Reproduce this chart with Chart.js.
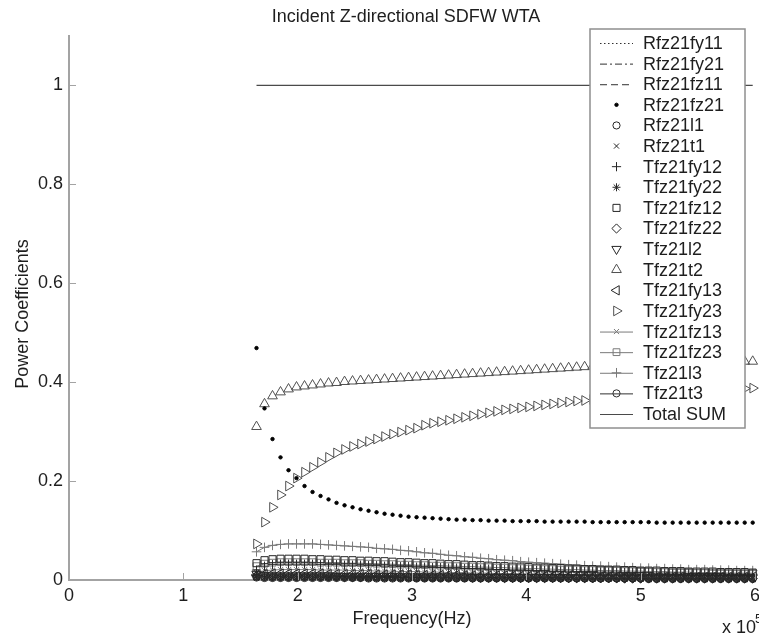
<!DOCTYPE html>
<html>
<head>
<meta charset="utf-8">
<title>Incident Z-directional SDFW WTA</title>
<script src="https://cdn.jsdelivr.net/npm/chart.js@4.4.1/dist/chart.umd.min.js"></script>
<style>
  html, body { margin: 0; padding: 0; background: #fff; overflow: hidden; }
  #wrap { width: 765px; height: 637px; }
</style>
</head>
<body>
<div id="wrap"><canvas id="powerChart" width="765" height="637"></canvas></div>
<script>
// frequency in units of 1e5 Hz
const freqE5 = [
  1.64, 1.71, 1.78, 1.85, 1.92, 1.99, 2.06,
  2.13, 2.20, 2.27, 2.34, 2.41, 2.48, 2.55,
  2.62, 2.69, 2.76, 2.83, 2.90, 2.97, 3.04,
  3.11, 3.18, 3.25, 3.32, 3.39, 3.46, 3.53,
  3.60, 3.67, 3.74, 3.81, 3.88, 3.95, 4.02,
  4.09, 4.16, 4.23, 4.30, 4.37, 4.44, 4.51,
  4.58, 4.65, 4.72, 4.79, 4.86, 4.93, 5.00,
  5.07, 5.14, 5.21, 5.28, 5.35, 5.42, 5.49,
  5.56, 5.63, 5.70, 5.77, 5.84, 5.91, 5.98
];

const xTicks = [0, 1, 2, 3, 4, 5, 6];
const yTicks = [0, 0.2, 0.4, 0.6, 0.8, 1];

const rfz21fy11 = [
  0.004, 0.003, 0.003, 0.003, 0.003, 0.003, 0.003,
  0.003, 0.003, 0.003, 0.003, 0.003, 0.003, 0.003,
  0.003, 0.003, 0.003, 0.002, 0.002, 0.002, 0.002,
  0.002, 0.002, 0.002, 0.002, 0.002, 0.002, 0.002,
  0.002, 0.002, 0.002, 0.002, 0.002, 0.002, 0.002,
  0.002, 0.002, 0.002, 0.002, 0.002, 0.002, 0.002,
  0.002, 0.002, 0.002, 0.002, 0.002, 0.002, 0.002,
  0.002, 0.002, 0.002, 0.002, 0.002, 0.002, 0.002,
  0.002, 0.002, 0.002, 0.002, 0.002, 0.002, 0.002
];
const rfz21fy21 = [
  0.008, 0.007, 0.007, 0.007, 0.007, 0.007, 0.007,
  0.007, 0.007, 0.007, 0.006, 0.006, 0.006, 0.006,
  0.006, 0.006, 0.006, 0.006, 0.006, 0.006, 0.006,
  0.006, 0.005, 0.005, 0.005, 0.005, 0.005, 0.005,
  0.005, 0.005, 0.005, 0.005, 0.005, 0.005, 0.005,
  0.005, 0.005, 0.004, 0.004, 0.004, 0.004, 0.004,
  0.004, 0.004, 0.004, 0.004, 0.004, 0.004, 0.004,
  0.004, 0.004, 0.004, 0.004, 0.004, 0.004, 0.004,
  0.004, 0.004, 0.004, 0.004, 0.004, 0.004, 0.004
];
const rfz21fz11 = [
  0.013, 0.012, 0.012, 0.011, 0.011, 0.011, 0.011,
  0.011, 0.010, 0.010, 0.010, 0.010, 0.010, 0.010,
  0.009, 0.009, 0.009, 0.009, 0.009, 0.009, 0.008,
  0.008, 0.008, 0.008, 0.008, 0.008, 0.007, 0.007,
  0.007, 0.007, 0.007, 0.007, 0.007, 0.007, 0.006,
  0.006, 0.006, 0.006, 0.006, 0.006, 0.006, 0.006,
  0.006, 0.006, 0.005, 0.005, 0.005, 0.005, 0.005,
  0.005, 0.005, 0.005, 0.005, 0.005, 0.005, 0.005,
  0.005, 0.005, 0.005, 0.005, 0.005, 0.005, 0.005
];
const rfz21fz21 = [
  0.469, 0.347, 0.285, 0.248, 0.222, 0.206, 0.190,
  0.178, 0.170, 0.163, 0.156, 0.151, 0.147, 0.143,
  0.140, 0.137, 0.134, 0.132, 0.130, 0.128, 0.127,
  0.126, 0.125, 0.124, 0.123, 0.122, 0.122, 0.121,
  0.121, 0.120, 0.120, 0.120, 0.119, 0.119, 0.119,
  0.119, 0.118, 0.118, 0.118, 0.118, 0.118, 0.118,
  0.117, 0.117, 0.117, 0.117, 0.117, 0.117, 0.117,
  0.117, 0.116, 0.116, 0.116, 0.116, 0.116, 0.116,
  0.116, 0.116, 0.116, 0.116, 0.116, 0.116, 0.116
];
const rfz21l1 = [
  0.005, 0.004, 0.004, 0.004, 0.004, 0.004, 0.004,
  0.004, 0.004, 0.004, 0.004, 0.004, 0.004, 0.004,
  0.003, 0.003, 0.003, 0.003, 0.003, 0.003, 0.003,
  0.003, 0.003, 0.003, 0.003, 0.003, 0.003, 0.003,
  0.003, 0.003, 0.003, 0.003, 0.003, 0.003, 0.003,
  0.003, 0.003, 0.003, 0.003, 0.003, 0.003, 0.003,
  0.003, 0.003, 0.003, 0.003, 0.003, 0.003, 0.003,
  0.002, 0.002, 0.002, 0.002, 0.002, 0.002, 0.002,
  0.002, 0.002, 0.002, 0.002, 0.002, 0.002, 0.002
];
const rfz21t1 = [
  0.006, 0.005, 0.005, 0.005, 0.005, 0.005, 0.005,
  0.005, 0.005, 0.005, 0.005, 0.005, 0.005, 0.005,
  0.005, 0.004, 0.004, 0.004, 0.004, 0.004, 0.004,
  0.004, 0.004, 0.004, 0.004, 0.004, 0.004, 0.004,
  0.004, 0.004, 0.004, 0.004, 0.004, 0.003, 0.003,
  0.003, 0.003, 0.003, 0.003, 0.003, 0.003, 0.003,
  0.003, 0.003, 0.003, 0.003, 0.003, 0.003, 0.003,
  0.003, 0.003, 0.003, 0.003, 0.003, 0.003, 0.003,
  0.003, 0.003, 0.003, 0.003, 0.003, 0.003, 0.003
];
const tfz21fy12 = [
  0.020, 0.028, 0.031, 0.032, 0.032, 0.032, 0.032,
  0.032, 0.031, 0.031, 0.031, 0.030, 0.030, 0.030,
  0.029, 0.029, 0.028, 0.028, 0.027, 0.027, 0.026,
  0.026, 0.025, 0.025, 0.024, 0.024, 0.023, 0.023,
  0.022, 0.022, 0.021, 0.021, 0.020, 0.020, 0.020,
  0.019, 0.019, 0.018, 0.018, 0.018, 0.017, 0.017,
  0.017, 0.016, 0.016, 0.016, 0.015, 0.015, 0.015,
  0.015, 0.014, 0.014, 0.014, 0.014, 0.013, 0.013,
  0.013, 0.013, 0.013, 0.012, 0.012, 0.012, 0.012
];
const tfz21fy22 = [
  0.009, 0.008, 0.008, 0.008, 0.008, 0.008, 0.008,
  0.008, 0.008, 0.007, 0.007, 0.007, 0.007, 0.007,
  0.007, 0.007, 0.007, 0.007, 0.006, 0.006, 0.006,
  0.006, 0.006, 0.006, 0.006, 0.006, 0.006, 0.006,
  0.005, 0.005, 0.005, 0.005, 0.005, 0.005, 0.005,
  0.005, 0.005, 0.005, 0.005, 0.005, 0.004, 0.004,
  0.004, 0.004, 0.004, 0.004, 0.004, 0.004, 0.004,
  0.004, 0.004, 0.004, 0.004, 0.004, 0.004, 0.004,
  0.004, 0.004, 0.004, 0.004, 0.004, 0.004, 0.004
];
const tfz21fz12 = [
  0.034, 0.040, 0.042, 0.043, 0.043, 0.043, 0.043,
  0.042, 0.042, 0.041, 0.041, 0.040, 0.040, 0.039,
  0.039, 0.038, 0.038, 0.037, 0.036, 0.036, 0.035,
  0.034, 0.034, 0.033, 0.032, 0.032, 0.031, 0.030,
  0.030, 0.029, 0.028, 0.028, 0.027, 0.027, 0.026,
  0.025, 0.025, 0.024, 0.024, 0.023, 0.023, 0.022,
  0.022, 0.021, 0.021, 0.021, 0.020, 0.020, 0.019,
  0.019, 0.019, 0.018, 0.018, 0.018, 0.017, 0.017,
  0.017, 0.017, 0.016, 0.016, 0.016, 0.016, 0.015
];
const tfz21fz22 = [
  0.008, 0.007, 0.007, 0.007, 0.007, 0.007, 0.007,
  0.007, 0.007, 0.007, 0.007, 0.006, 0.006, 0.006,
  0.006, 0.006, 0.006, 0.006, 0.006, 0.006, 0.005,
  0.005, 0.005, 0.005, 0.005, 0.005, 0.005, 0.005,
  0.005, 0.005, 0.005, 0.004, 0.004, 0.004, 0.004,
  0.004, 0.004, 0.004, 0.004, 0.004, 0.004, 0.004,
  0.004, 0.004, 0.004, 0.004, 0.003, 0.003, 0.003,
  0.003, 0.003, 0.003, 0.003, 0.003, 0.003, 0.003,
  0.003, 0.003, 0.003, 0.003, 0.003, 0.003, 0.003
];
const tfz21l2 = [
  0.012, 0.010, 0.009, 0.009, 0.009, 0.009, 0.009,
  0.009, 0.009, 0.009, 0.008, 0.008, 0.008, 0.008,
  0.008, 0.008, 0.008, 0.008, 0.007, 0.007, 0.007,
  0.007, 0.007, 0.007, 0.007, 0.007, 0.007, 0.006,
  0.006, 0.006, 0.006, 0.006, 0.006, 0.006, 0.006,
  0.006, 0.006, 0.006, 0.006, 0.005, 0.005, 0.005,
  0.005, 0.005, 0.005, 0.005, 0.005, 0.005, 0.005,
  0.005, 0.005, 0.005, 0.005, 0.005, 0.005, 0.005,
  0.005, 0.005, 0.005, 0.005, 0.005, 0.005, 0.005
];
const tfz21t2 = [
  0.310, 0.356, 0.372, 0.380, 0.386, 0.390, 0.392,
  0.394, 0.396, 0.398, 0.399, 0.401, 0.402, 0.403,
  0.404, 0.405, 0.406, 0.407, 0.408, 0.409, 0.410,
  0.411, 0.412, 0.413, 0.414, 0.415, 0.416, 0.417,
  0.418, 0.419, 0.420, 0.421, 0.422, 0.423, 0.424,
  0.425, 0.426, 0.427, 0.428, 0.429, 0.430, 0.431,
  0.432, 0.432, 0.433, 0.434, 0.435, 0.435, 0.436,
  0.437, 0.437, 0.438, 0.438, 0.439, 0.439, 0.440,
  0.440, 0.441, 0.441, 0.441, 0.442, 0.442, 0.442
];
const tfz21fy13 = [
  0.010, 0.012, 0.013, 0.013, 0.013, 0.013, 0.013,
  0.013, 0.013, 0.012, 0.012, 0.012, 0.012, 0.012,
  0.012, 0.011, 0.011, 0.011, 0.011, 0.011, 0.010,
  0.010, 0.010, 0.010, 0.010, 0.010, 0.009, 0.009,
  0.009, 0.009, 0.009, 0.009, 0.008, 0.008, 0.008,
  0.008, 0.008, 0.008, 0.008, 0.008, 0.007, 0.007,
  0.007, 0.007, 0.007, 0.007, 0.007, 0.007, 0.007,
  0.006, 0.006, 0.006, 0.006, 0.006, 0.006, 0.006,
  0.006, 0.006, 0.006, 0.006, 0.006, 0.006, 0.006
];
const tfz21fy23 = [
  0.073, 0.117, 0.147, 0.172, 0.190, 0.206, 0.218,
  0.228, 0.238, 0.248, 0.257, 0.264, 0.270, 0.275,
  0.280, 0.285, 0.290, 0.295, 0.299, 0.303, 0.307,
  0.313, 0.317, 0.320, 0.323, 0.326, 0.329, 0.332,
  0.335, 0.338, 0.341, 0.344, 0.346, 0.348, 0.350,
  0.352, 0.354, 0.356, 0.358, 0.360, 0.362, 0.363,
  0.365, 0.366, 0.368, 0.369, 0.371, 0.372, 0.373,
  0.374, 0.376, 0.377, 0.378, 0.379, 0.380, 0.381,
  0.382, 0.383, 0.384, 0.385, 0.386, 0.387, 0.388
];
const tfz21fz13 = [
  0.015, 0.019, 0.020, 0.021, 0.021, 0.021, 0.021,
  0.021, 0.020, 0.020, 0.020, 0.020, 0.019, 0.019,
  0.019, 0.018, 0.018, 0.018, 0.017, 0.017, 0.017,
  0.016, 0.016, 0.016, 0.015, 0.015, 0.015, 0.014,
  0.014, 0.014, 0.013, 0.013, 0.013, 0.012, 0.012,
  0.012, 0.012, 0.011, 0.011, 0.011, 0.011, 0.010,
  0.010, 0.010, 0.010, 0.010, 0.009, 0.009, 0.009,
  0.009, 0.009, 0.009, 0.008, 0.008, 0.008, 0.008,
  0.008, 0.008, 0.008, 0.008, 0.007, 0.007, 0.007
];
const tfz21fz23 = [
  0.028, 0.033, 0.035, 0.036, 0.036, 0.036, 0.036,
  0.036, 0.035, 0.035, 0.035, 0.034, 0.034, 0.034,
  0.033, 0.033, 0.032, 0.032, 0.031, 0.031, 0.030,
  0.030, 0.029, 0.029, 0.028, 0.028, 0.027, 0.027,
  0.026, 0.026, 0.025, 0.025, 0.024, 0.024, 0.023,
  0.023, 0.022, 0.022, 0.021, 0.021, 0.021, 0.020,
  0.020, 0.019, 0.019, 0.019, 0.018, 0.018, 0.018,
  0.017, 0.017, 0.017, 0.016, 0.016, 0.016, 0.015,
  0.015, 0.015, 0.015, 0.014, 0.014, 0.014, 0.014
];
const tfz21l3 = [
  0.057, 0.066, 0.070, 0.072, 0.073, 0.073, 0.073,
  0.073, 0.072, 0.071, 0.070, 0.069, 0.068, 0.067,
  0.066, 0.064, 0.063, 0.062, 0.060, 0.059, 0.057,
  0.055, 0.054, 0.052, 0.050, 0.049, 0.047, 0.046,
  0.044, 0.043, 0.041, 0.040, 0.039, 0.037, 0.036,
  0.035, 0.034, 0.033, 0.032, 0.031, 0.030, 0.029,
  0.028, 0.028, 0.027, 0.026, 0.026, 0.025, 0.024,
  0.024, 0.023, 0.023, 0.022, 0.022, 0.021, 0.021,
  0.021, 0.020, 0.020, 0.020, 0.019, 0.019, 0.019
];
const tfz21t3 = [
  0.007, 0.006, 0.006, 0.006, 0.006, 0.006, 0.006,
  0.006, 0.006, 0.006, 0.006, 0.006, 0.005, 0.005,
  0.005, 0.005, 0.005, 0.005, 0.005, 0.005, 0.005,
  0.005, 0.005, 0.005, 0.005, 0.004, 0.004, 0.004,
  0.004, 0.004, 0.004, 0.004, 0.004, 0.004, 0.004,
  0.004, 0.004, 0.004, 0.004, 0.004, 0.004, 0.004,
  0.003, 0.003, 0.003, 0.003, 0.003, 0.003, 0.003,
  0.003, 0.003, 0.003, 0.003, 0.003, 0.003, 0.003,
  0.003, 0.003, 0.003, 0.003, 0.003, 0.003, 0.003
];
const totalSum = [
  1, 1, 1, 1, 1, 1, 1,
  1, 1, 1, 1, 1, 1, 1,
  1, 1, 1, 1, 1, 1, 1,
  1, 1, 1, 1, 1, 1, 1,
  1, 1, 1, 1, 1, 1, 1,
  1, 1, 1, 1, 1, 1, 1,
  1, 1, 1, 1, 1, 1, 1,
  1, 1, 1, 1, 1, 1, 1,
  1, 1, 1, 1, 1, 1, 1
];

const FONT = "'Liberation Sans', Arial, Helvetica, sans-serif";
const TEXT = '#1e1e1e';
const AXIS = '#a3a3a3';
const MARK = '#262626';
const LINE = '#7a7a7a';

function toPoints(values) {
  return values.map((v, i) => ({ x: freqE5[i], y: v }));
}

// marker-only series (MATLAB style, hollow markers)
function markers(label, values, style, radius, rotation, color) {
  return {
    label: label,
    data: toPoints(values),
    showLine: false,
    pointStyle: style,
    pointRadius: radius,
    pointRotation: rotation || 0,
    pointBorderColor: color || MARK,
    pointBackgroundColor: 'rgba(0,0,0,0)',
    pointBorderWidth: 1,
    borderColor: color || MARK,
    clip: false
  };
}

// line series, optionally with a marker
function lineSeries(label, values, dash, style, radius, color, width) {
  return {
    label: label,
    data: toPoints(values),
    showLine: true,
    borderColor: color || LINE,
    borderWidth: width || 1,
    borderDash: dash,
    pointStyle: style || 'circle',
    pointRadius: style ? radius : 0,
    pointRotation: 0,
    pointBorderColor: color || LINE,
    pointBackgroundColor: 'rgba(0,0,0,0)',
    pointBorderWidth: 1,
    tension: 0,
    clip: false
  };
}

const dots = markers('Rfz21fz21', rfz21fz21, 'circle', 1.7, 0, '#000');
dots.pointBackgroundColor = '#000';

const datasets = [
  lineSeries('Rfz21fy11', rfz21fy11, [1.5, 2.5], null, 0, '#303030'),
  lineSeries('Rfz21fy21', rfz21fy21, [7, 3, 2, 3], null, 0, '#303030'),
  lineSeries('Rfz21fz11', rfz21fz11, [7, 4], null, 0, '#303030'),
  dots,
  markers('Rfz21l1', rfz21l1, 'circle', 3.6),
  markers('Rfz21t1', rfz21t1, 'crossRot', 3.6),
  markers('Tfz21fy12', tfz21fy12, 'cross', 4.6),
  markers('Tfz21fy22', tfz21fy22, 'star', 4),
  markers('Tfz21fz12', tfz21fz12, 'rect', 5),
  markers('Tfz21fz22', tfz21fz22, 'rectRot', 4.6),
  markers('Tfz21l2', tfz21l2, 'triangle', 5.4, 180),
  markers('Tfz21t2', tfz21t2, 'triangle', 5.6, 0, '#505050'),
  markers('Tfz21fy13', tfz21fy13, 'triangle', 5.4, 270),
  markers('Tfz21fy23', tfz21fy23, 'triangle', 5.6, 90, '#505050'),
  lineSeries('Tfz21fz13', tfz21fz13, [], 'crossRot', 3.6),
  lineSeries('Tfz21fz23', tfz21fz23, [], 'rect', 4.8),
  lineSeries('Tfz21l3', tfz21l3, [], 'cross', 4.8),
  lineSeries('Tfz21t3', tfz21t3, [], 'circle', 3.6, '#303030'),
  lineSeries('Total SUM', totalSum, [], null, 0, '#4a4a4a', 1.2)
];

function drawMarker(ctx, ds, x, y) {
  ctx.save();
  ctx.strokeStyle = ds.pointBorderColor;
  ctx.fillStyle = ds.pointBackgroundColor;
  ctx.lineWidth = ds.pointBorderWidth;
  ctx.setLineDash([]);
  Chart.helpers.drawPoint(ctx, {
    pointStyle: ds.pointStyle,
    radius: ds.pointRadius,
    rotation: ds.pointRotation,
    borderWidth: ds.pointBorderWidth
  }, x, y);
  ctx.restore();
}

const matlabLook = {
  id: 'matlabLook',
  afterDatasetsDraw(chart) {
    const ctx = chart.ctx;
    const xs = chart.scales.x, ys = chart.scales.y;
    const a = chart.chartArea;
    ctx.save();
    ctx.strokeStyle = AXIS;
    ctx.lineWidth = 1;
    // inward tick marks
    xTicks.forEach(v => {
      const px = Math.round(xs.getPixelForValue(v)) + 0.5;
      ctx.beginPath(); ctx.moveTo(px, a.bottom); ctx.lineTo(px, a.bottom - 7); ctx.stroke();
    });
    yTicks.forEach(v => {
      const py = Math.round(ys.getPixelForValue(v)) + 0.5;
      ctx.beginPath(); ctx.moveTo(a.left, py); ctx.lineTo(a.left + 7, py); ctx.stroke();
    });
    ctx.restore();
  },
  afterDraw(chart) {
    const ctx = chart.ctx;
    const a = chart.chartArea;
    const cx = (a.left + a.right) / 2;
    ctx.save();
    ctx.fillStyle = TEXT;
    ctx.font = '18px ' + FONT;
    ctx.textBaseline = 'middle';
    ctx.textAlign = 'center';
    ctx.fillText('Incident Z-directional SDFW WTA', cx - 6, 17);
    ctx.fillText('Frequency(Hz)', cx, 619);
    ctx.save();
    ctx.translate(23, (a.top + a.bottom) / 2 + 6);
    ctx.rotate(-Math.PI / 2);
    ctx.fillText('Power Coefficients', 0, 0);
    ctx.restore();
    ctx.textAlign = 'left';
    ctx.fillText('x 10', 722, 628);
    ctx.font = '13px ' + FONT;
    ctx.fillText('5', 755, 619);

    // legend box
    const lx = 590, ly = 29, lw = 155, lh = 399;
    const step = (lh - 28) / (chart.data.datasets.length - 1);
    ctx.fillStyle = '#fff';
    ctx.fillRect(lx, ly, lw, lh);
    ctx.strokeStyle = '#8f8f8f';
    ctx.lineWidth = 1.5;
    ctx.strokeRect(lx, ly, lw, lh);
    ctx.font = '18px ' + FONT;
    chart.data.datasets.forEach((ds, i) => {
      const y = ly + 14 + i * step;
      if (ds.showLine) {
        ctx.save();
        ctx.strokeStyle = ds.borderColor;
        ctx.lineWidth = ds.borderWidth;
        ctx.setLineDash(ds.borderDash || []);
        ctx.beginPath(); ctx.moveTo(lx + 10, y + 0.5); ctx.lineTo(lx + 43, y + 0.5); ctx.stroke();
        ctx.restore();
      }
      if (ds.pointRadius > 0) drawMarker(ctx, ds, lx + 26.5, y);
      ctx.fillStyle = TEXT;
      ctx.fillText(ds.label, lx + 53, y + 1);
    });
    ctx.restore();
  }
};

new Chart(document.getElementById('powerChart'), {
  type: 'line',
  data: { datasets: datasets },
  options: {
    responsive: false,
    animation: false,
    events: [],
    layout: { padding: { left: 0, top: 36, right: 3, bottom: 0 } },
    plugins: { legend: { display: false }, tooltip: { enabled: false }, title: { display: false } },
    scales: {
      x: {
        type: 'linear',
        min: 0,
        max: 6,
        afterFit: s => { s.height = 57; },
        afterBuildTicks: s => { s.ticks = xTicks.map(v => ({ value: v })); },
        grid: { display: false, drawTicks: false },
        border: { display: true, color: AXIS, width: 2 },
        ticks: {
          padding: 5,
          color: TEXT,
          font: { family: FONT, size: 18 },
          maxRotation: 0,
          callback: v => String(v)
        }
      },
      y: {
        type: 'linear',
        min: 0,
        max: 1.1,
        afterFit: s => { s.width = 69; },
        afterBuildTicks: s => { s.ticks = yTicks.map(v => ({ value: v })); },
        grid: { display: false, drawTicks: false },
        border: { display: true, color: AXIS, width: 2 },
        ticks: {
          padding: 6,
          color: TEXT,
          font: { family: FONT, size: 18 },
          callback: v => String(v)
        }
      }
    }
  },
  plugins: [matlabLook]
});
</script>
</body>
</html>
